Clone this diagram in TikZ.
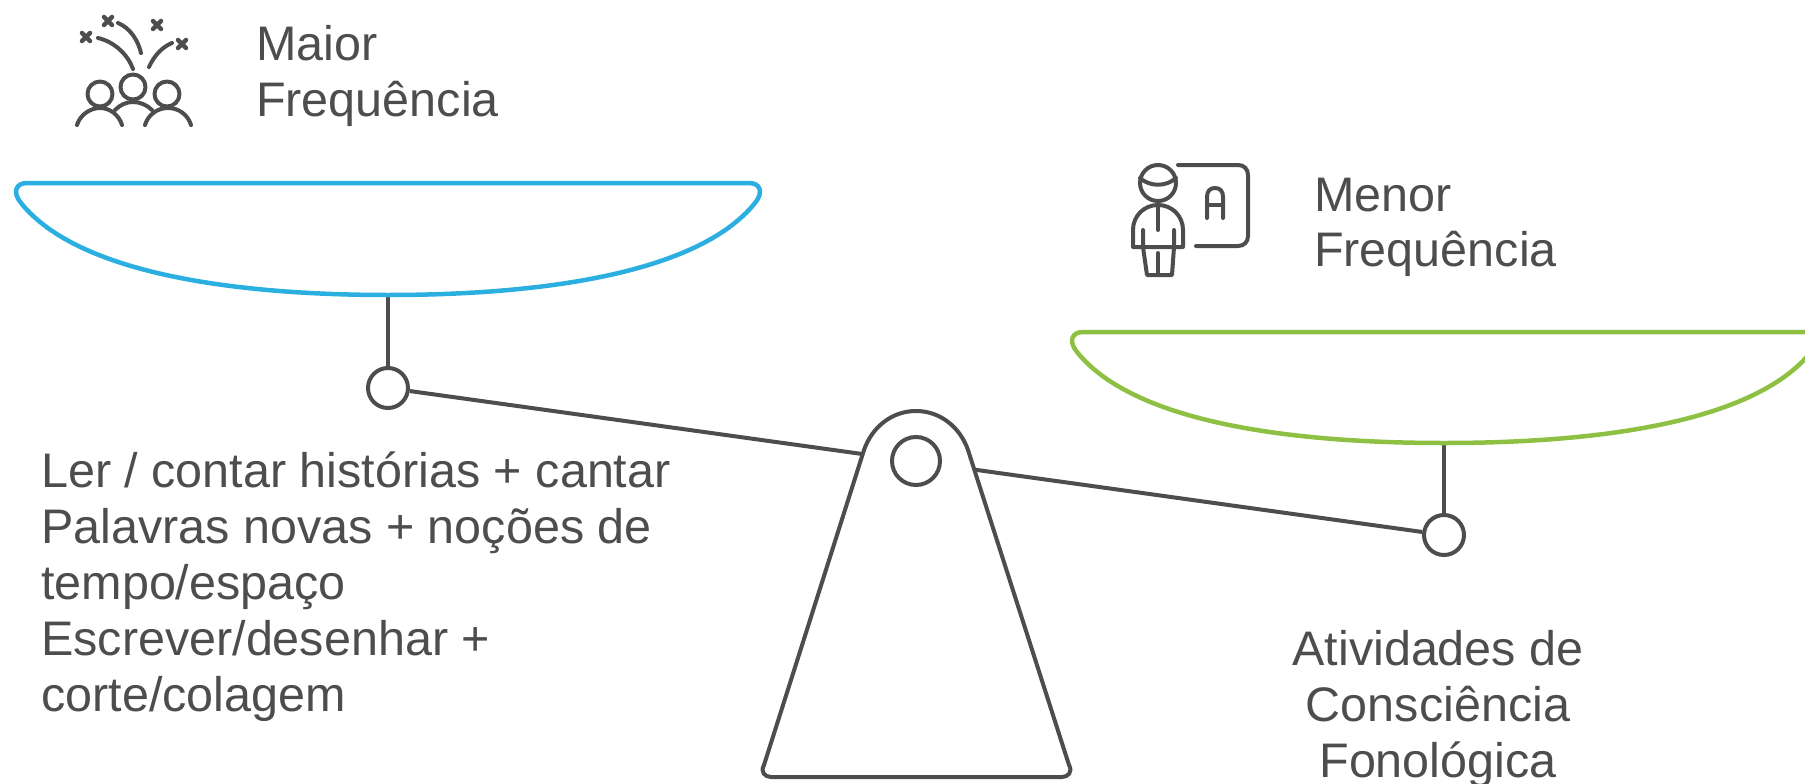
\documentclass[tikz,border=0pt]{standalone}
\usepackage{fontspec}
\setmainfont{Liberation Sans}
\definecolor{inkgray}{HTML}{4D4D4D}
\definecolor{panblue}{HTML}{2BAEE0}
\definecolor{pangreen}{HTML}{8EC044}
\begin{document}
\begin{tikzpicture}[x=1pt, y=-1pt,
        pivot/.style={circle, draw=inkgray, fill=white, line width=4, minimum size=40, inner sep=0},
        hole/.style={circle, draw=inkgray, fill=white, line width=4, minimum size=48, inner sep=0},
        label/.style={text=inkgray, font=\fontsize{48.5}{56}\selectfont, inner sep=0},
        icon/.style={draw=inkgray, line width=4, line cap=round, line join=round},
        star/.style={draw=inkgray, line width=4.5, line cap=round},]

        \clip (0,0) rectangle (1805,784);

        % Pivots
        \node[pivot] (lpivot) at (388,388) {};
        \node[pivot] (rpivot) at (1444,535) {};
        \coordinate (lbottom) at (388,295);
        \coordinate (rbottom) at (1444,443);

        % Beam
        \draw[inkgray, line width=4] (lpivot) -- (rpivot);
        \draw[inkgray, line width=4] (lbottom) -- (lpivot);
        \draw[inkgray, line width=4] (rbottom) -- (rpivot);

        % Pans
        \draw[panblue, line width=4.5, line join=round] (27,183) -- (749,183) .. controls (760,183) and (764,192) .. (755,203) .. controls (697,275) and (536,295) .. (lbottom) .. controls (240,295) and (79,275) .. (21,203) .. controls (12,192) and (16,183) .. (27,183) -- cycle;
        \draw[pangreen, line width=4.5, line join=round] (1083,332) -- (1805,332) .. controls (1816,332) and (1820,341) .. (1811,352) .. controls (1753,424) and (1592,443) .. (rbottom) .. controls (1296,443) and (1135,424) .. (1077,352) .. controls (1068,341) and (1072,332) .. (1083,332) -- cycle;

        % Stand
        \draw[inkgray, line width=4, fill=white, line join=round] (864,450) .. controls (872,427) and (892,411) .. (916,411) .. controls (940,411) and (960,427) .. (968,450) -- (1069,765) .. controls (1073,772) and (1068,777) .. (1062,777) -- (771,777) .. controls (765,777) and (760,772) .. (764,765) -- cycle;
        \node[hole] (axis) at (916,461) {};

        % Texts
        \node[label, anchor=base west] (maior) at (256,60) {Maior};
        \node[label, anchor=base west] (maiorfreq) at (256,116) {Frequência};
        \node[label, anchor=base west] (menor) at (1314,211) {Menor};
        \node[label, anchor=base west] (menorfreq) at (1314,266) {Frequência};
        \node[label, anchor=base west, align=left] (lista) at (41,711) {Ler / contar histórias + cantar\\Palavras novas + noções de\\tempo/espaço\\Escrever/desenhar +\\corte/colagem};
        \node[label, anchor=base, align=center] (fono) at (1438,777) {Atividades de\\Consciência\\Fonológica};

        % Crowd icon
        \foreach \sx/\sy in {86/37, 108/21, 157/25, 182/44} {
            \draw[star] (\sx-4,\sy-4) -- (\sx+4,\sy+4) (\sx-4,\sy+4) -- (\sx+4,\sy-4);
        }
        \draw[icon] (98,38) .. controls (115,42) and (128,55) .. (133,69);
        \draw[icon] (118,23) .. controls (130,28) and (138,40) .. (141,53);
        \draw[icon] (149,67) .. controls (154,56) and (162,47) .. (172,43);
        \draw[icon] (100,94) circle (12.5) (133,87) circle (12.5) (167,94) circle (12.5);
        \draw[icon] (77,125) .. controls (80,115) and (90,108) .. (100,108) .. controls (110,108) and (119,115) .. (122,125);
        \draw[icon] (115,110) .. controls (120,105) and (126,102) .. (133,102) .. controls (140,102) and (147,105) .. (152,110);
        \draw[icon] (145,125) .. controls (148,115) and (157,108) .. (168,108) .. controls (179,108) and (188,115) .. (191,125);

        % Teacher icon
        \draw[icon] (1158,183) circle (18);
        \draw[icon] (1140,178) .. controls (1150,187) and (1166,187) .. (1176,178);
        \draw[icon] (1178,165) -- (1238,165) .. controls (1244,165) and (1248,169) .. (1248,175) -- (1248,236) .. controls (1248,242) and (1244,246) .. (1238,246) -- (1196,246);
        \draw[icon] (1207,218) -- (1207,197) .. controls (1207,191) and (1210,188) .. (1215,188) .. controls (1220,188) and (1223,191) .. (1223,197) -- (1223,218);
        \draw[icon] (1207,205) -- (1223,205);
        \draw[icon] (1133,247) -- (1133,230) .. controls (1133,216) and (1144,205) .. (1158,205) .. controls (1172,205) and (1183,216) .. (1183,230) -- (1183,247) -- cycle;
        \draw[icon] (1143,230) -- (1143,247) -- (1147,275) -- (1172,275) -- (1174,247) -- (1174,230);
        \draw[icon] (1158,205) -- (1158,230);
        \draw[icon] (1158,253) -- (1158,275);
\end{tikzpicture}
\end{document}
